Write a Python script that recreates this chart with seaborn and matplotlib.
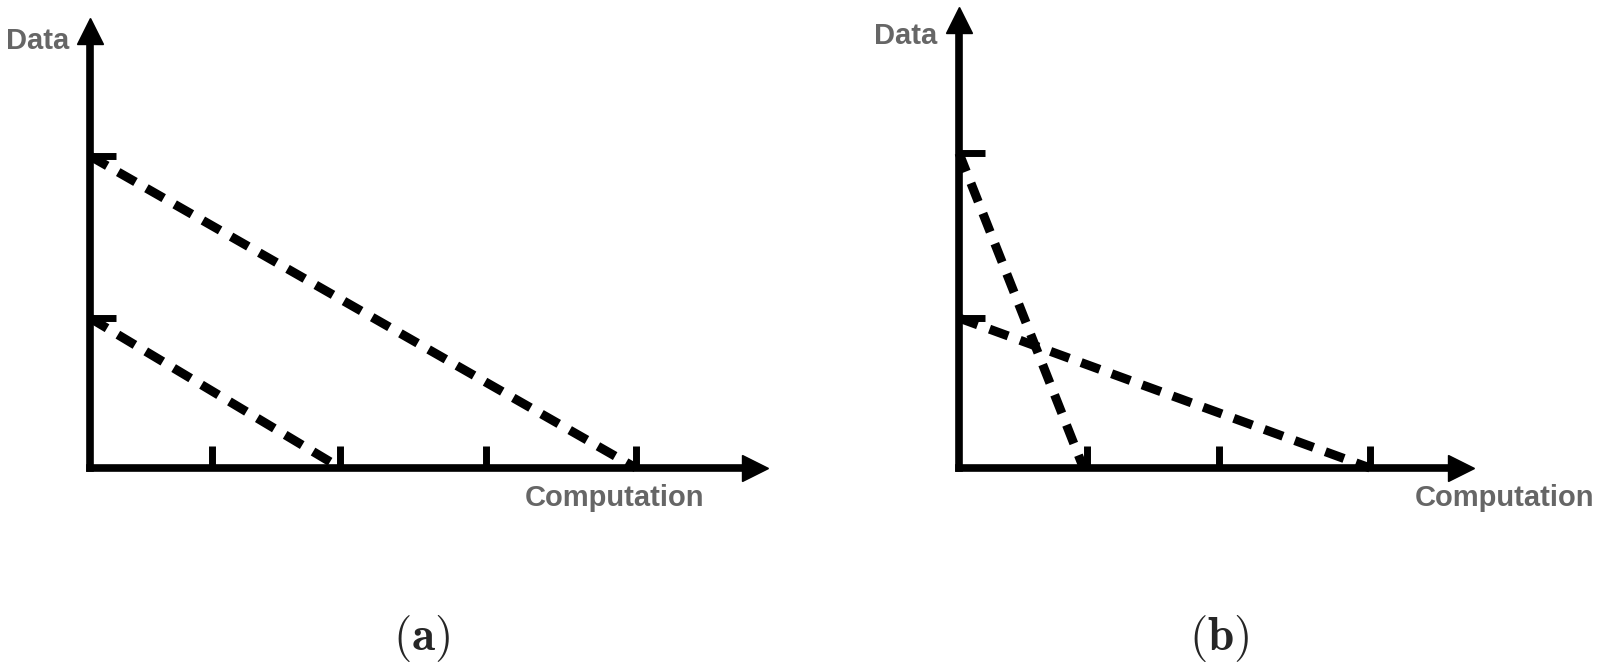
import pandas as pd
import matplotlib.pyplot as plt
import seaborn as sns

# ==========================================
# Data (axis units: 1 unit ~ 150 px)
# ==========================================
# panel (a)
a_xticks = [0.81, 1.67, 2.64, 3.64]
a_yticks = [1.0, 2.08]
a_upper_x = [0.0, 3.64]
a_upper_y = [2.08, 0.0]
a_lower_x = [0.0, 1.67]
a_lower_y = [1.0, 0.0]

# panel (b)
b_xticks = [0.85, 1.73, 2.74]
b_yticks = [1.0, 2.1]
b_steep_x = [0.0, 0.83]
b_steep_y = [2.1, 0.0]
b_flat_x = [0.0, 2.74]
b_flat_y = [1.0, 0.0]

x_label = "Computation"
y_label = "Data"
captions = ["(a)", "(b)"]

# ==========================================
# Figure setup
# ==========================================
sns.set_style("white")
plt.rcParams["font.family"] = ["Liberation Sans", "DejaVu Sans"]
plt.rcParams["mathtext.fontset"] = "cm"

W, H = 1599, 668
fig = plt.figure(figsize=(W / 100, H / 100), dpi=100)


def px_axes(x0, y0, xmax_px, ytop_px):
    # origin pixel (x0, y0), right/top end of axes in pixels
    return fig.add_axes([x0 / W, (H - y0) / H, (xmax_px - x0) / W, (y0 - ytop_px) / H])


def style_axes(ax, xlim, ylim, xticks, yticks):
    ax.set_xlim(0, xlim)
    ax.set_ylim(0, ylim)
    for s in ["top", "right"]:
        ax.spines[s].set_visible(False)
    for s in ["left", "bottom"]:
        ax.spines[s].set_linewidth(5.5)
        ax.spines[s].set_color("black")
        ax.spines[s].set_capstyle("projecting")
    ax.set_xticks(xticks)
    ax.set_yticks(yticks)
    ax.set_xticklabels([])
    ax.set_yticklabels([])
    ax.tick_params(axis="x", direction="in", length=16, width=5, color="black", bottom=True)
    ax.tick_params(axis="y", direction="in", length=19, width=5, color="black", left=True)
    ax.set_xlabel("")
    ax.set_ylabel("")
    ax.patch.set_alpha(0)
    # arrow heads
    ax.plot(1, 0, ">", color="black", markersize=19, transform=ax.transAxes, clip_on=False)
    ax.plot(0, 1, "^", color="black", markersize=19, transform=ax.transAxes, clip_on=False)


def dashed(ax, xs, ys):
    df = pd.DataFrame({"x": xs, "y": ys})
    sns.lineplot(data=df, x="x", y="y", ax=ax, color="black", linewidth=6.5,
                 linestyle=(0, (2.2, 1.4)), clip_on=False, sort=False)


# ==========================================
# Panel (a)
# ==========================================
ax_a = px_axes(90, 468, 755, 31)
dashed(ax_a, a_upper_x, a_upper_y)
dashed(ax_a, a_lower_x, a_lower_y)
style_axes(ax_a, (755 - 90) / 150, (468 - 31) / 150, a_xticks, a_yticks)

# ==========================================
# Panel (b)
# ==========================================
ax_b = px_axes(959, 468, 1461, 20)
dashed(ax_b, b_steep_x, b_steep_y)
dashed(ax_b, b_flat_x, b_flat_y)
style_axes(ax_b, (1461 - 959) / 150, (468 - 20) / 150, b_xticks, b_yticks)

# ==========================================
# Labels
# ==========================================
label_kw = dict(color="#666666", fontweight="bold", fontsize=21, ha="center", va="center")
fig.text(38 / W, 1 - 41 / H, y_label, **label_kw)
fig.text(906 / W, 1 - 36 / H, y_label, **label_kw)
fig.text(615 / W, 1 - 498 / H, x_label, **label_kw)
fig.text(1504 / W, 1 - 498 / H, x_label, **label_kw)

fig.text(422 / W, 1 - 639 / H, r"$\mathbf{" + captions[0] + "}$", fontsize=34,
         ha="center", va="center")
fig.text(1219 / W, 1 - 639 / H, r"$\mathbf{" + captions[1] + "}$", fontsize=34,
         ha="center", va="center")

fig.savefig("out.png", dpi=100, facecolor="white")
